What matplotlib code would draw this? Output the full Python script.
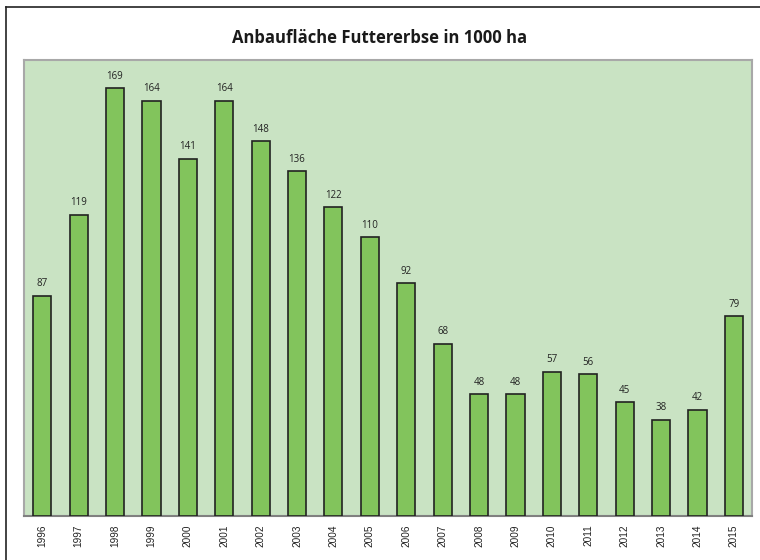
import matplotlib
matplotlib.use("Agg")
import matplotlib.pyplot as plt
from matplotlib.lines import Line2D

years = ["1996", "1997", "1998", "1999", "2000", "2001", "2002", "2003", "2004", "2005",
         "2006", "2007", "2008", "2009", "2010", "2011", "2012", "2013", "2014", "2015"]
values = [87, 119, 169, 164, 141, 164, 148, 136, 122, 110,
          92, 68, 48, 48, 57, 56, 45, 38, 42, 79]
title = "Anbaufläche Futtererbse in 1000 ha"

W, H = 760, 560
fig = plt.figure(figsize=(W / 100, H / 100), dpi=100)
ax = fig.add_axes([24 / W, 1 - 516 / H, (752 - 24) / W, (516 - 60) / H])
ax.set_facecolor("#c9e3c3")

x = list(range(len(years)))
ax.bar(x, values, width=0.5, color="#82c45c", edgecolor="#222222", linewidth=1.2, zorder=3)
for xi, v in zip(x, values):
    ax.text(xi, v + 2.5, str(v), ha="center", va="bottom", fontsize=7, color="#222222",
            family="Open Sans")

ax.set_xlim(-0.5, len(years) - 0.5)
ax.set_ylim(0, 180)
ax.set_yticks([])
ax.set_xticks(x)
ax.set_xticklabels(years, rotation=90, fontsize=7.2, family="Liberation Sans", color="#222222")
ax.tick_params(axis="x", length=0, pad=6)
for s in ["top", "left", "right"]:
    ax.spines[s].set_color("#a8a8a8")
    ax.spines[s].set_linewidth(1.5)
ax.spines["bottom"].set_color("#808080")
ax.spines["bottom"].set_linewidth(1.5)

fig.text(0.5, 1 - 38 / H, title, ha="center", va="center", fontsize=12,
         fontweight="bold", family="Open Sans", color="#1a1a1a")

# outer frame (left and top edges)
fig.add_artist(Line2D([6 / W, 6 / W], [0, 1 - 7 / H], transform=fig.transFigure,
                      color="#222222", linewidth=1.2))
fig.add_artist(Line2D([6 / W, 1], [1 - 7 / H, 1 - 7 / H], transform=fig.transFigure,
                      color="#222222", linewidth=1.2))

fig.savefig("out.png", dpi=100)
